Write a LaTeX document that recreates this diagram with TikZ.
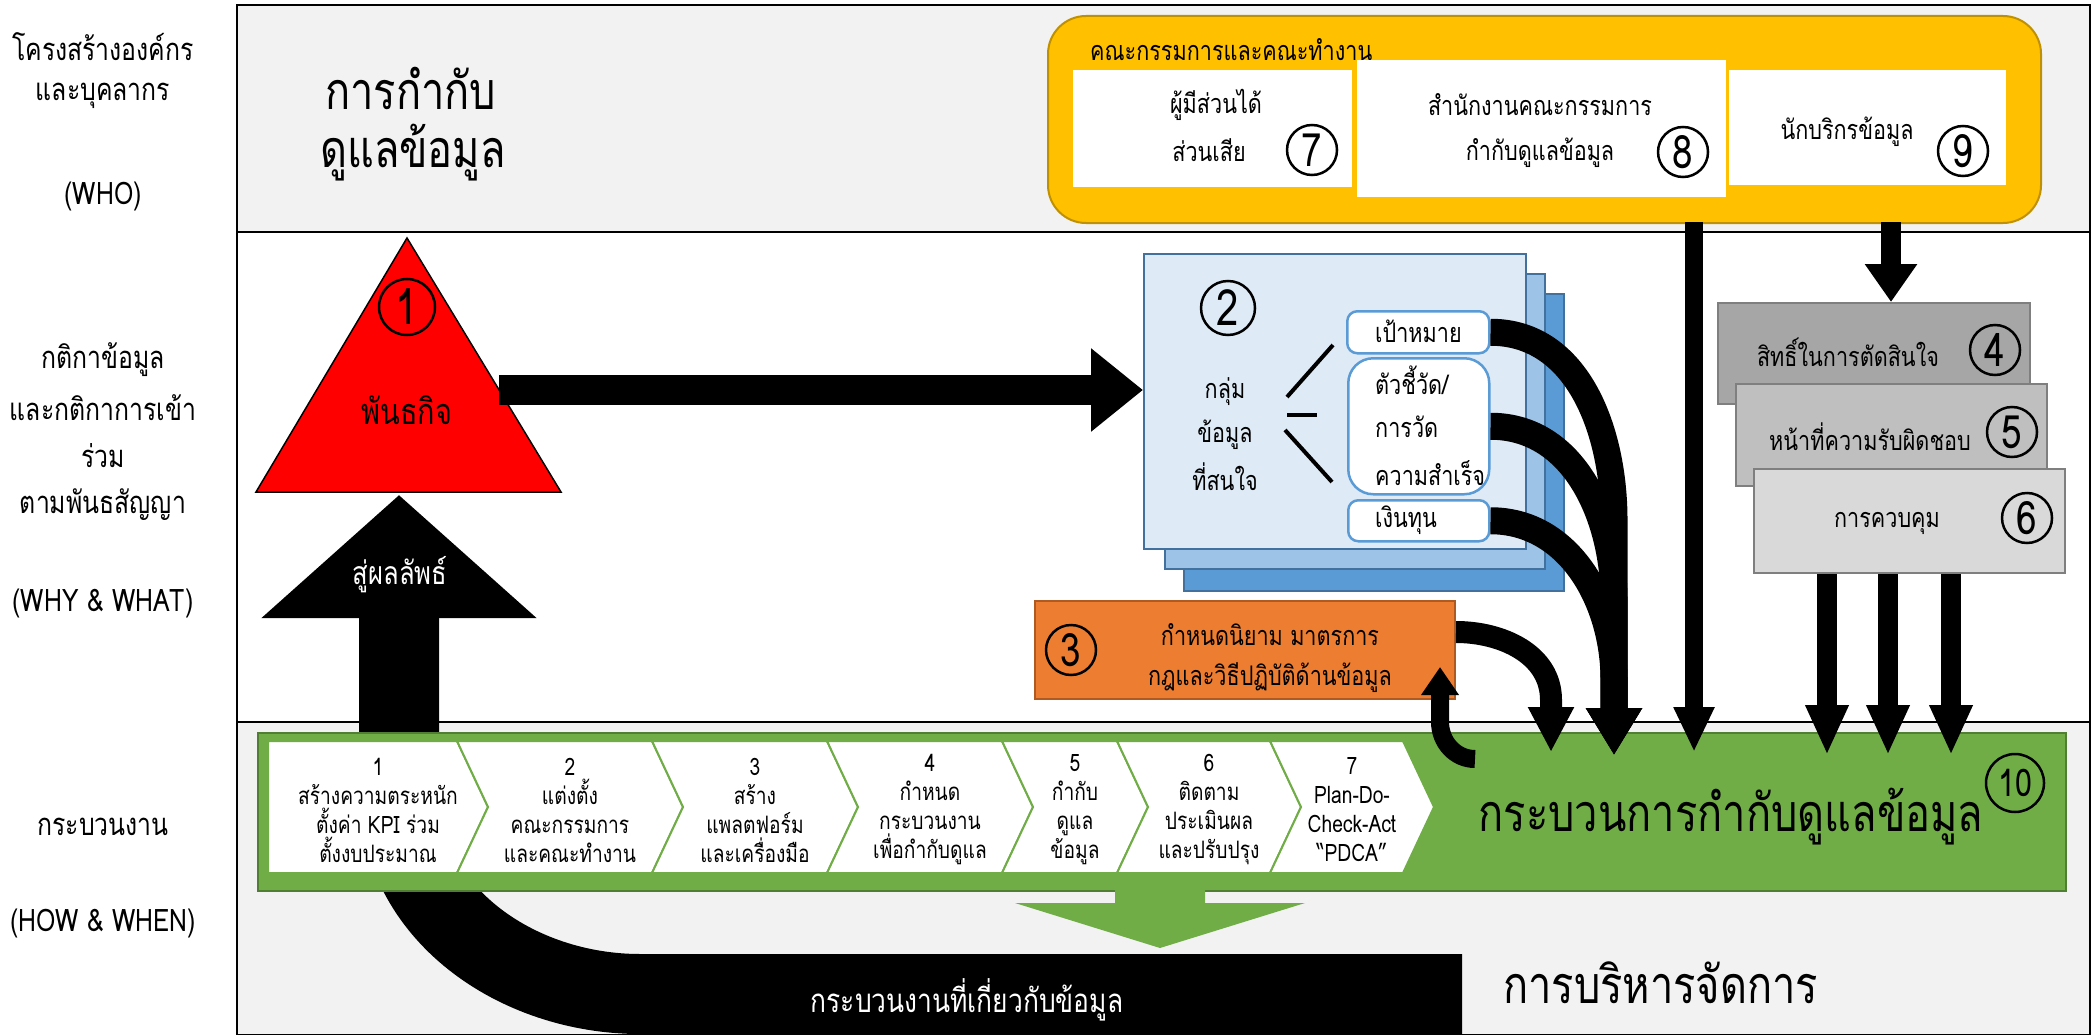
\documentclass[tikz,border=0pt]{standalone}
\usepackage{fontspec}
\setmainfont{Loma}[Script=Thai,FakeStretch=0.8]
\usetikzlibrary{arrows.meta,positioning}

\definecolor{bandgray}{HTML}{F2F2F2}
\definecolor{goldfill}{HTML}{FFC000}
\definecolor{golddraw}{HTML}{BF9000}
\definecolor{bluefront}{HTML}{DEEBF7}
\definecolor{bluemid}{HTML}{9DC3E6}
\definecolor{blueback}{HTML}{5B9BD5}
\definecolor{bluedraw}{HTML}{41719C}
\definecolor{orangefill}{HTML}{ED7D31}
\definecolor{orangedraw}{HTML}{AE5A21}
\definecolor{greenfill}{HTML}{70AD47}
\definecolor{greendraw}{HTML}{507E32}
\definecolor{greydark}{HTML}{A6A6A6}
\definecolor{greymid}{HTML}{BFBFBF}
\definecolor{greylight}{HTML}{D9D9D9}
\definecolor{greydraw}{HTML}{7F7F7F}

\tikzset{
    band/.style={draw=black, line width=2.5pt},
    lbl/.style={font=\fontsize{31}{37}\selectfont, inner sep=0pt},
    txt/.style={font=\fontsize{27}{32}\selectfont, inner sep=0pt},
    big/.style={font=\fontsize{52}{60}\selectfont, inner sep=0pt},
    num/.style={circle, draw, line width=2.5pt, inner sep=0pt, minimum size=50pt,
        font=\fontsize{46}{46}\selectfont},
    card/.style={rectangle, fill=white, inner sep=0pt, anchor=north west},
    stackbox/.style={rectangle, draw=bluedraw, line width=1.5pt, inner sep=0pt, anchor=north west},
    tagbox/.style={rectangle, rounded corners=10pt, draw=blueback, line width=2.5pt,
        fill=white, inner sep=0pt, anchor=north west},
    rolebox/.style={rectangle, draw=greydraw, line width=2pt, inner sep=0pt, anchor=north west},
    chev/.style={fill=white, draw=greenfill, line width=2pt},
    chevtxt/.style={align=center, font=\fontsize{24}{29}\selectfont, inner sep=0pt},
    fatarrow/.style n args={3}{draw=black, line width=#1, -{Triangle[width=#2, length=#3]}}
}

\begin{document}
\begin{tikzpicture}[x=1pt,y=-1pt]
    \useasboundingbox (0,0) rectangle (2092,1035);
    % bands
    \draw[band, fill=bandgray] (237,5) rectangle (2090,232);
    \draw[band, fill=white] (237,232) rectangle (2090,722);
    \draw[band, fill=bandgray] (237,722) rectangle (2090,1035);

    % row labels
    \node[lbl] (who1) at (103,47) {โครงสร้างองค์กร};
    \node[lbl] (who2) at (103,96) {และบุคลากร};
    \node[lbl] (who3) at (103,196) {(WHO)};
    \node[lbl] (why1) at (103,360) {กติกาข้อมูล};
    \node[lbl] (why2) at (103,408) {และกติกาการเข้า};
    \node[lbl] (why3) at (103,456) {ร่วม};
    \node[lbl] (why4) at (103,505) {ตามพันธสัญญา};
    \node[lbl] (why5) at (103,603) {(WHY \& WHAT)};
    \node[lbl] (how1) at (103,827) {กระบวนงาน};
    \node[lbl] (how2) at (103,923) {(HOW \& WHEN)};

    % governance title
    \node[big, anchor=west] (gov1) at (325,88) {การกำกับ};
    \node[big, anchor=west] (gov2) at (320,153) {ดูแลข้อมูล};

    % committees
    \node[rectangle, rounded corners=38pt, draw=golddraw, line width=2pt, fill=goldfill,
        anchor=north west, minimum width=993pt, minimum height=207pt] (committee) at (1047,15) {};
    \node[txt, anchor=west] (comtitle) at (1090,50) {คณะกรรมการและคณะทำงาน};
    \node[card, minimum width=279pt, minimum height=117pt] (holder) at (1073,70) {};
    \node[card, minimum width=369pt, minimum height=137pt] (office) at (1357,60) {};
    \node[card, minimum width=277pt, minimum height=115pt] (steward) at (1729,70) {};
    \node[txt] (holder1) at (1216,105) {ผู้มีส่วนได้};
    \node[txt] (holder2) at (1209,150) {ส่วนเสีย};
    \node[num] (n7) at (1312,150) {7};
    \node[txt] (office1) at (1540,105) {สำนักงานคณะกรรมการ};
    \node[txt] (office2) at (1540,153) {กำกับดูแลข้อมูล};
    \node[num] (n8) at (1683,152) {8};
    \node[txt] (steward1) at (1847,132) {นักบริกรข้อมูล};
    \node[num] (n9) at (1963,151) {9};

    % bottom loop, drawn under the process bar
    \coordinate (u0) at (1462,994);
    \coordinate (u1) at (399,495);
    \draw[fatarrow={80pt}{268pt}{123pt}] (u0) -- (640,994) to[out=180,in=-90] (399,790) -- (u1);
    \node[txt, text=white, font=\fontsize{32}{38}\selectfont] (outcome) at (400,575) {สู่ผลลัพธ์};
    \node[txt, text=white, font=\fontsize{33}{40}\selectfont] (datawork) at (967,1000) {กระบวนงานที่เกี่ยวกับข้อมูล};

    % mission
    \coordinate (apex) at (407,238);
    \coordinate (baseL) at (256,492);
    \coordinate (baseR) at (561,492);
    \draw[fill=red, line width=1.5pt] (apex) -- (baseR) -- (baseL) -- cycle;
    \node[num, minimum size=56pt, font=\fontsize{50}{50}\selectfont] (n1) at (407,307) {1};
    \node[txt, font=\fontsize{36}{42}\selectfont] (mission) at (407,410) {พันธกิจ};

    % data groups
    \node[stackbox, fill=blueback, minimum width=380pt, minimum height=297pt] (back) at (1183,293) {};
    \node[stackbox, fill=bluemid, minimum width=380pt, minimum height=295pt] (mid) at (1164,273) {};
    \node[stackbox, fill=bluefront, minimum width=382pt, minimum height=295pt] (data) at (1143,253) {};
    \node[num, minimum size=54pt, font=\fontsize{50}{50}\selectfont] (n2) at (1228,308) {2};
    \node[txt] (data1) at (1225,392) {กลุ่ม};
    \node[txt] (data2) at (1225,435) {ข้อมูล};
    \node[txt] (data3) at (1225,477) {ที่สนใจ};
    \draw[line width=4pt] (1287,397) -- (1333,345);
    \draw[line width=4pt] (1287,415) -- (1317,415);
    \draw[line width=4pt] (1285,430) -- (1332,482);
    \node[tagbox, minimum width=142pt, minimum height=42pt] (goal) at (1346,310) {};
    \node[tagbox, rounded corners=25pt, minimum width=141pt, minimum height=136pt] (kpi) at (1347,357) {};
    \node[tagbox, minimum width=141pt, minimum height=41pt] (fund) at (1347,499) {};
    \node[txt, anchor=west] (goal1) at (1375,331) {เป้าหมาย};
    \node[txt, anchor=west] (kpi1) at (1375,380) {ตัวชี้วัด/};
    \node[txt, anchor=west] (kpi2) at (1375,427) {การวัด};
    \node[txt, anchor=west] (kpi3) at (1375,473) {ความสำเร็จ};
    \node[txt, anchor=west] (fund1) at (1375,520) {เงินทุน};

    \coordinate (m1) at (499,390);
    \draw[fatarrow={30pt}{80pt}{52pt}] (m1) -- (m1 -| data.west);

    % rules
    \node[rectangle, draw=orangedraw, line width=2pt, fill=orangefill, inner sep=0pt,
        anchor=north west, minimum width=420pt, minimum height=98pt] (rules) at (1034,600) {};
    \node[num] (n3) at (1071,650) {3};
    \node[txt] (rules1) at (1270,635) {กำหนดนิยาม มาตรการ};
    \node[txt] (rules2) at (1270,678) {กฎและวิธีปฏิบัติด้านข้อมูล};

    % roles
    \node[rolebox, fill=greydark, minimum width=312pt, minimum height=101pt] (rights) at (1717,302) {};
    \node[rolebox, fill=greymid, minimum width=311pt, minimum height=102pt] (duty) at (1735,383) {};
    \node[rolebox, fill=greylight, minimum width=311pt, minimum height=104pt] (ctrl) at (1753,468) {};
    \node[txt] (rights1) at (1848,352) {สิทธิ์ในการตัดสินใจ};
    \node[num] (n4) at (1995,350) {4};
    \node[txt] (duty1) at (1870,437) {หน้าที่ความรับผิดชอบ};
    \node[num] (n5) at (2012,432) {5};
    \node[txt] (ctrl1) at (1887,523) {การควบคุม};
    \node[num] (n6) at (2027,518) {6};

    % governance process
    \node[rectangle, draw=greendraw, line width=2pt, fill=greenfill, inner sep=0pt,
        anchor=north west, minimum width=1808pt, minimum height=158pt] (proc) at (257,732) {};
    \foreach \i/\xl/\xr/\nl/\ta/\tb/\tc in {
        1/268/457/0/สร้างความตระหนัก/ตั้งค่า KPI ร่วม/ตั้งงบประมาณ,
        2/457/652/31/แต่งตั้ง/คณะกรรมการ/และคณะทำงาน,
        3/652/827/31/สร้าง/แพลตฟอร์ม/และเครื่องมือ,
        4/827/1002/31/กำหนด/กระบวนงาน/เพื่อกำกับดูแล,
        5/1002/1117/31/กำกับ/ดูแล/ข้อมูล,
        6/1117/1270/31/ติดตาม/ประเมินผล/และปรับปรุง,
        7/1270/1403/31/Plan-Do-/Check-Act/“PDCA”}{
        \draw[chev] (\xl,741) -- (\xr,741) -- (\xr+31,807) -- (\xr,873) -- (\xl,873)
            -- (\xl+\nl,807) -- cycle;
        \node[chevtxt] (stage\i) at ({(\xl+\xr+31)/2},810) {\i\\\ta\\\tb\\\tc};
    }
    \node[big] (proctitle) at (1731,817) {กระบวนการกำกับดูแลข้อมูล};
    \node[num, minimum size=58pt, font=\fontsize{38}{38}\selectfont] (n10) at (2015,783) {10};
    \draw[fill=greenfill, draw=none] (1115,888) -- (1205,888) -- (1205,903) -- (1305,903)
        -- (1160,948) -- (1015,903) -- (1115,903) -- cycle;
    \node[big, anchor=west] (manage) at (1503,983) {การบริหารจัดการ};

    % arrows into the process
    \coordinate (t3) at (1551,752);
    \coordinate (t2) at (1614,755);
    \coordinate (t8) at (1694,752);
    \draw[fatarrow={22pt}{43pt}{45pt}] ([yshift=18pt]rules.east) to[out=0,in=90] (1551,700) -- (t3);
    \draw[fatarrow={27pt}{53pt}{47pt}] (goal.east) to[out=0,in=90] (1614,520) -- (t2);
    \draw[fatarrow={27pt}{53pt}{47pt}] (kpi.east) to[out=0,in=90] (1614,600) -- (t2);
    \draw[fatarrow={27pt}{53pt}{47pt}] (fund.east) to[out=0,in=90] (1614,680) -- (t2);
    \coordinate (r0) at (1475,759);
    \coordinate (r1) at (1440,667);
    \draw[fatarrow={18pt}{36pt}{28pt}] (r0) to[out=180,in=-90] (1440,722) -- (r1);
    \coordinate (c8) at (1694,222);
    \draw[fatarrow={18pt}{38pt}{45pt}] (c8) -- (t8);
    \coordinate (c9) at (1891,222);
    \draw[fatarrow={20pt}{50pt}{38pt}] (c9) -- (c9 |- rights.north);
    \foreach \x in {1827,1888,1951}
        \draw[fatarrow={20pt}{40pt}{50pt}] (ctrl.south -| \x,0) -- (\x,755);
\end{tikzpicture}
\end{document}
